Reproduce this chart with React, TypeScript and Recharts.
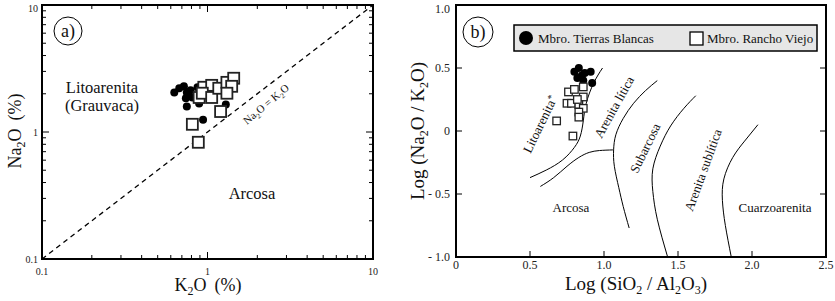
import React from 'react';
import { ScatterChart, Scatter, XAxis, YAxis } from 'recharts';

const FONT = '"Liberation Serif", "Times New Roman", serif';

// ---------- Panel a data (K2O %, Na2O %) ----------
const logMajorTicks = [0.1, 1, 10];
const logMinorTicks = [0.2, 0.3, 0.4, 0.5, 0.6, 0.7, 0.8, 0.9, 2, 3, 4, 5, 6, 7, 8, 9];
const tbK2O = [0.63, 0.675, 0.72, 0.75, 0.81, 0.74, 0.79, 0.87, 0.75, 0.89, 0.94, 1.29];
const tbNa2O = [2.05, 2.21, 2.29, 2.05, 1.87, 1.84, 2.13, 2.25, 1.59, 1.68, 1.25, 1.65];
const rvK2O = [0.89, 0.95, 1.06, 0.93, 1.06, 1.17, 1.31, 1.44, 1.4, 1.31, 1.2, 0.81, 0.88];
const rvNa2O = [1.87, 2.25, 2.33, 2.02, 1.87, 2.21, 2.46, 2.65, 2.29, 2.02, 1.45, 1.15, 0.83];
const equalLineX = [0.1, 10];
const equalLineY = [0.1, 10];

// ---------- Panel b data (log SiO2/Al2O3, log Na2O/K2O) ----------
const bXTicks = [0, 0.5, 1, 1.5, 2, 2.5];
const bYTicks = [-1, -0.5, 0, 0.5, 1];
const tbLogSiAl = [0.8, 0.83, 0.87, 0.91, 0.82, 0.86, 0.92, 0.85];
const tbLogNaK = [0.47, 0.5, 0.46, 0.47, 0.42, 0.4, 0.38, 0.44];
const rvLogSiAl = [0.76, 0.8, 0.86, 0.86, 0.75, 0.78, 0.83, 0.86, 0.83, 0.83, 0.68, 0.79, 0.82];
const rvLogNaK = [0.31, 0.33, 0.35, 0.27, 0.22, 0.22, 0.21, 0.18, 0.15, 0.11, 0.08, -0.04, 0.25];

const boundary1X = [0.99, 0.93, 0.88, 0.86, 0.84, 0.8, 0.72, 0.61, 0.5];
const boundary1Y = [0.5, 0.38, 0.22, 0.08, -0.04, -0.13, -0.23, -0.31, -0.37];
const boundary2X = [0.57, 0.66, 0.75, 0.83, 0.9, 0.97, 1.06];
const boundary2Y = [-0.44, -0.37, -0.28, -0.21, -0.17, -0.155, -0.15];
const boundary3X = [1.36, 1.28, 1.2, 1.13, 1.08, 1.065, 1.07, 1.1, 1.13, 1.17];
const boundary3Y = [0.4, 0.32, 0.22, 0.1, -0.03, -0.15, -0.28, -0.45, -0.6, -0.77];
const boundary4X = [1.62, 1.54, 1.45, 1.38, 1.33, 1.33, 1.36, 1.43];
const boundary4Y = [0.28, 0.18, 0.04, -0.12, -0.3, -0.48, -0.7, -1.0];
const boundary5X = [2.04, 1.95, 1.87, 1.81, 1.8, 1.82, 1.86];
const boundary5Y = [0.05, -0.08, -0.21, -0.38, -0.55, -0.75, -1.0];

const zip = (xs: number[], ys: number[]) => xs.map((x, i) => ({ x, y: ys[i] }));

const NoShape = () => <g />;

const dotShape = (r: number) => (p: any) => <circle cx={p.cx} cy={p.cy} r={r} fill="#000" />;
const squareShape = (s: number, sw: number) => (p: any) => (
  <rect x={p.cx - s / 2} y={p.cy - s / 2} width={s} height={s} fill="#fff" stroke="#222" strokeWidth={sw} />
);

const border = { stroke: '#000', strokeWidth: 2, strokeLinecap: 'square' as const };

const fmtLog = (v: number) => String(v);
const fmtBX = (v: number) => (v === 0 ? '0' : v.toFixed(1));
const fmtBY = (v: number) => (v === 0 ? '0' : v < 0 ? '- ' + Math.abs(v).toFixed(1) : v.toFixed(1));

// tick label renderers
const xLabelTick = (fmt: (v: number) => string, size: number) => (p: any) => (
  <text x={p.x} y={p.y} dy="0.71em" textAnchor="middle" fontSize={size} fontFamily={FONT} fill="#222">
    {fmt(p.payload.value)}
  </text>
);
const yLabelTick = (fmt: (v: number) => string, size: number, topValue: number) => (p: any) => (
  <text x={p.x} y={p.y + (p.payload.value === topValue ? 3.5 : 0)} dy="0.355em" textAnchor="end"
    fontSize={size} fontFamily={FONT} fill="#222">
    {fmt(p.payload.value)}
  </text>
);
// inward tick marks drawn at the frame edge
const edgeTick = (side: string, majors: number[], majorLen: number, minorLen: number) => (p: any) => {
  const v = p.payload.value;
  const len = majors.includes(v) ? majorLen : minorLen;
  const x = p.x;
  const y = p.y;
  let x2 = x;
  let y2 = y;
  if (side === 'bottom') y2 = y - len;
  if (side === 'top') y2 = y + len;
  if (side === 'left') x2 = x + len;
  if (side === 'right') x2 = x - len;
  return <line x1={x} y1={y} x2={x2} y2={y2} stroke="#000" strokeWidth={1} />;
};

const axA = { type: 'number' as const, scale: 'log' as const, domain: [0.1, 10], allowDataOverflow: true };
const axBX = { type: 'number' as const, domain: [0, 2.5], allowDataOverflow: true };
const axBY = { type: 'number' as const, domain: [-1, 1], allowDataOverflow: true };

const allLogTicks = [...logMajorTicks, ...logMinorTicks].sort((a, b) => a - b);

function ChartA() {
  return (
    <ScatterChart width={420} height={301} margin={{ top: 5, right: 47, bottom: 0, left: 0 }}>
      <XAxis xAxisId="main" dataKey="x" {...axA} ticks={logMajorTicks} interval={0} height={42}
        axisLine={false} tickLine={false} tickSize={7} tickMargin={2} tick={xLabelTick(fmtLog, 10)} />
      <YAxis yAxisId="main" dataKey="y" {...axA} ticks={logMajorTicks} interval={0} width={42}
        axisLine={false} tickLine={false} tickSize={2} tickMargin={2} tick={yLabelTick(fmtLog, 10, 10)} />
      <XAxis xAxisId="bE" dataKey="x" {...axA} orientation="bottom" mirror height={1} ticks={allLogTicks} interval={0}
        tickLine={false} tickSize={0} tickMargin={0} tick={edgeTick('bottom', logMajorTicks, 7, 4)} axisLine={border} />
      <XAxis xAxisId="tE" dataKey="x" {...axA} orientation="top" mirror height={1} ticks={allLogTicks} interval={0}
        tickLine={false} tickSize={0} tickMargin={0} tick={edgeTick('top', logMajorTicks, 7, 4)} axisLine={border} />
      <YAxis yAxisId="lE" dataKey="y" {...axA} orientation="left" mirror width={1} ticks={allLogTicks} interval={0}
        tickLine={false} tickSize={0} tickMargin={0} tick={edgeTick('left', logMajorTicks, 7, 4)} axisLine={border} />
      <YAxis yAxisId="rE" dataKey="y" {...axA} orientation="right" mirror width={1} ticks={allLogTicks} interval={0}
        tickLine={false} tickSize={0} tickMargin={0} tick={edgeTick('right', logMajorTicks, 7, 4)} axisLine={border} />
      <Scatter xAxisId="main" yAxisId="main" data={zip(equalLineX, equalLineY)} shape={NoShape}
        line={{ stroke: '#000', strokeWidth: 1.3, strokeDasharray: '5 4' }} isAnimationActive={false} />
      <Scatter xAxisId="main" yAxisId="main" data={zip(tbK2O, tbNa2O)} shape={dotShape(4)} isAnimationActive={false} />
      <Scatter xAxisId="main" yAxisId="main" data={zip(rvK2O, rvNa2O)} shape={squareShape(11, 1.8)} isAnimationActive={false} />
    </ScatterChart>
  );
}

const boundaries = [
  zip(boundary1X, boundary1Y),
  zip(boundary2X, boundary2Y),
  zip(boundary3X, boundary3Y),
  zip(boundary4X, boundary4Y),
  zip(boundary5X, boundary5Y),
];

function ChartB() {
  return (
    <ScatterChart width={415} height={301} margin={{ top: 5, right: 9, bottom: 0, left: 0 }}>
      <XAxis xAxisId="main" dataKey="x" {...axBX} ticks={bXTicks} interval={0} height={44}
        axisLine={false} tickLine={false} tickSize={2} tickMargin={1} tick={xLabelTick(fmtBX, 12)} />
      <YAxis yAxisId="main" dataKey="y" {...axBY} ticks={bYTicks} interval={0} width={36}
        axisLine={false} tickLine={false} tickSize={4} tickMargin={2} tick={yLabelTick(fmtBY, 12, 1)} />
      <XAxis xAxisId="bE" dataKey="x" {...axBX} orientation="bottom" mirror height={1} ticks={bXTicks} interval={0}
        tickLine={false} tickSize={0} tickMargin={0} tick={edgeTick('bottom', bXTicks, 6, 6)} axisLine={border} />
      <XAxis xAxisId="tE" dataKey="x" {...axBX} orientation="top" mirror height={1} ticks={bXTicks} interval={0}
        tickLine={false} tickSize={0} tickMargin={0} tick={edgeTick('top', bXTicks, 0, 0)} axisLine={border} />
      <YAxis yAxisId="lE" dataKey="y" {...axBY} orientation="left" mirror width={1} ticks={bYTicks} interval={0}
        tickLine={false} tickSize={0} tickMargin={0} tick={edgeTick('left', bYTicks, 6, 6)} axisLine={border} />
      <YAxis yAxisId="rE" dataKey="y" {...axBY} orientation="right" mirror width={1} ticks={bYTicks} interval={0}
        tickLine={false} tickSize={0} tickMargin={0} tick={edgeTick('right', bYTicks, 6, 6)} axisLine={border} />
      {boundaries.map((d, i) => (
        <Scatter key={'bd' + i} xAxisId="main" yAxisId="main" data={d} shape={NoShape} lineJointType="natural"
          line={{ stroke: '#000', strokeWidth: 1 }} isAnimationActive={false} />
      ))}
      <Scatter xAxisId="main" yAxisId="main" data={zip(tbLogSiAl, tbLogNaK)} shape={dotShape(4)} isAnimationActive={false} />
      <Scatter xAxisId="main" yAxisId="main" data={zip(rvLogSiAl, rvLogNaK)} shape={squareShape(7.5, 1.3)} isAnimationActive={false} />
    </ScatterChart>
  );
}

function Overlay() {
  const t = { fontFamily: FONT, fill: '#111' };
  return (
    <svg width={835} height={301} style={{ position: 'absolute', left: 0, top: 0, pointerEvents: 'none' }}>
      {/* panel a */}
      <circle cx={68} cy={31} r={14} fill="none" stroke="#000" strokeWidth={1} />
      <text x={68} y={37} textAnchor="middle" fontSize={18} {...t}>a)</text>
      <text x={102} y={93} textAnchor="middle" fontSize={16.5} {...t}>Litoarenita</text>
      <text x={102} y={111} textAnchor="middle" fontSize={16.5} {...t}>(Grauvaca)</text>
      <text x={252} y={199} textAnchor="middle" fontSize={16.5} {...t}>Arcosa</text>
      <text transform="translate(266,104) rotate(-40)" textAnchor="middle" dy="0.35em" fontSize={11} {...t}>
        Na<tspan dy={3} fontSize={7.5}>2</tspan><tspan dy={-3}>O = K</tspan><tspan dy={3} fontSize={7.5}>2</tspan><tspan dy={-3}>O</tspan>
      </text>
      <text x={208} y={291} textAnchor="middle" fontSize={18} {...t}>
        K<tspan dy={4} fontSize={12}>2</tspan><tspan dy={-4}>O</tspan><tspan dx={8}>(%)</tspan>
      </text>
      <text transform="translate(21,131) rotate(-90)" textAnchor="middle" fontSize={18} {...t}>
        Na<tspan dy={4} fontSize={12}>2</tspan><tspan dy={-4}>O</tspan><tspan dx={8}>(%)</tspan>
      </text>

      {/* panel b */}
      <circle cx={478} cy={32} r={15} fill="none" stroke="#000" strokeWidth={1} />
      <text x={478} y={38} textAnchor="middle" fontSize={18} {...t}>b)</text>
      <rect x={514} y={25} width={303} height={26} fill="#e6e6e6" stroke="#000" strokeWidth={1.5} />
      <circle cx={526} cy={38} r={7} fill="#000" />
      <text x={538} y={43} fontSize={13} {...t}>Mbro. Tierras Blancas</text>
      <rect x={690} y={32} width={13} height={13} fill="#fff" stroke="#000" strokeWidth={1.3} />
      <text x={707} y={43} fontSize={13} {...t}>Mbro. Rancho Viejo</text>

      <text transform="translate(540,124) rotate(-64)" textAnchor="middle" dy="0.35em" fontSize={13} {...t}>
        Litoarenita<tspan dy={-3} fontSize={10}>*</tspan>
      </text>
      <text transform="translate(614,107) rotate(-61)" textAnchor="middle" dy="0.35em" fontSize={13} {...t}>Arenita lítica</text>
      <text transform="translate(645,148) rotate(-64)" textAnchor="middle" dy="0.35em" fontSize={13} {...t}>Subarcosa</text>
      <text transform="translate(703,170) rotate(-70)" textAnchor="middle" dy="0.35em" fontSize={13} {...t}>Arenita sublítica</text>
      <text x={571} y={212} textAnchor="middle" fontSize={13} {...t}>Arcosa</text>
      <text x={775} y={212} textAnchor="middle" fontSize={13} {...t}>Cuarzoarenita</text>

      <text x={636} y={290} textAnchor="middle" fontSize={19} {...t}>
        Log (SiO<tspan dy={4} fontSize={12}>2</tspan><tspan dy={-4}> / Al</tspan><tspan dy={4} fontSize={12}>2</tspan><tspan dy={-4}>O</tspan><tspan dy={4} fontSize={12}>3</tspan><tspan dy={-4}>)</tspan>
      </text>
      <text transform="translate(424,131) rotate(-90)" textAnchor="middle" fontSize={19} {...t}>
        Log (Na<tspan dy={4} fontSize={12}>2</tspan><tspan dy={-4}>O / K</tspan><tspan dy={4} fontSize={12}>2</tspan><tspan dy={-4}>O)</tspan>
      </text>
    </svg>
  );
}

export default function App() {
  return (
    <div style={{ position: 'absolute', left: 0, top: 0, width: 835, height: 301, background: '#fff', overflow: 'hidden' }}>
      <div style={{ position: 'absolute', left: 0, top: 0 }}>
        <ChartA />
      </div>
      <div style={{ position: 'absolute', left: 420, top: 0 }}>
        <ChartB />
      </div>
      <Overlay />
    </div>
  );
}
